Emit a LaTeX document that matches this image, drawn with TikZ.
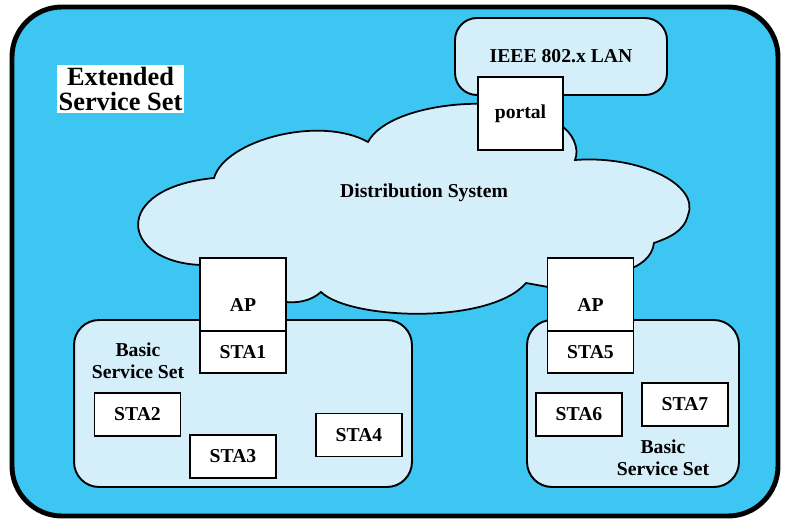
\documentclass[tikz,border=0pt]{standalone}
\usepackage{fontspec}
\setmainfont{Liberation Serif}
\usetikzlibrary{positioning}
\definecolor{esscyan}{HTML}{3DC6F2}
\definecolor{cloudbg}{HTML}{D4EEFA}

\begin{document}
\begin{tikzpicture}[
    x=0.02cm, y=-0.02cm,
    sta/.style={
        rectangle, draw=black, fill=white, line width=1.1pt,
        minimum width=1.72cm, minimum height=0.86cm,
        inner sep=0pt, outer sep=0pt,
        font=\fontsize{11.2}{12.5}\selectfont\bfseries
    },
    apbox/.style={sta, minimum height=1.46cm, text height=19pt, text depth=0pt},
    bss/.style={
        rectangle, draw=black, fill=cloudbg, line width=1.1pt,
        rounded corners=0.5cm, inner sep=0pt
    },
    lbl/.style={font=\fontsize{11.2}{12.5}\selectfont\bfseries,
        align=center, inner sep=0pt}
]
\useasboundingbox (0,0) rectangle (788,528);

% --- Extended Service Set ---
\draw[line width=2.8pt, fill=esscyan, rounded corners=1cm] (12,7) rectangle (778,516);
\node[fill=white, inner sep=1pt, align=center,
      font=\fontsize{15}{14.7}\selectfont\bfseries] (esslbl) at (120.5,89)
      {Extended\\Service Set};

% --- LAN and Distribution System ---
\node[bss, lbl, rounded corners=0.44cm, minimum width=4.24cm,
      minimum height=1.54cm] (lan) at (561,56.5) {IEEE 802.x LAN};
\draw[fill=cloudbg, line width=1pt]
    (214,178) .. controls (225,140) and (320,115) .. (368,142)
    .. controls (390,100) and (520,90) .. (560,125)
    .. controls (572,132) and (580,148) .. (575,160)
    .. controls (640,155) and (700,185) .. (688,215)
    .. controls (684,232) and (668,238) .. (654,243)
    .. controls (652,258) and (640,265) .. (628,270)
    -- (548,287) -- (526,283)
    .. controls (490,325) and (350,320) .. (321,292)
    .. controls (310,302) and (295,303) .. (286,302)
    -- (201,265)
    .. controls (120,262) and (110,188) .. (214,178) -- cycle;
\node[lbl] (dslbl) at (424,193) {Distribution System};
\node[sta, minimum width=1.70cm, minimum height=1.46cm] (portal)
      at (520.5,113.5) {portal};

% --- Basic Service Sets ---
\node[bss, minimum width=6.76cm, minimum height=3.34cm] (bss1) at (243,403.5) {};
\node[bss, minimum width=4.24cm, minimum height=3.34cm] (bss2) at (633,403.5) {};
\node[lbl] (bss1lbl) at (138,361) {Basic\\Service Set};
\node[lbl] (bss2lbl) at (663,458) {Basic\\Service Set};

\node[apbox] (ap1) at (243,294.5) {AP};
\node[sta, minimum height=0.84cm, below=0pt of ap1] (sta1) {STA1};
\node[apbox] (ap2) at (590.5,294.5) {AP};
\node[sta, minimum height=0.84cm, below=0pt of ap2] (sta5) {STA5};

\node[sta] (sta2) at (137.5,414.5) {STA2};
\node[sta] (sta3) at (233,456.5) {STA3};
\node[sta] (sta4) at (359,435) {STA4};
\node[sta] (sta6) at (579,414.5) {STA6};
\node[sta] (sta7) at (685,404.5) {STA7};
\end{tikzpicture}
\end{document}
